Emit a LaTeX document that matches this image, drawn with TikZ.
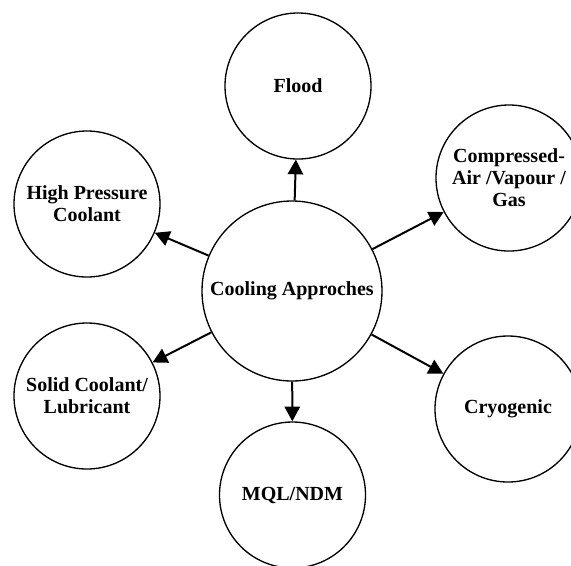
\documentclass[tikz,border=0pt]{standalone}
\usepackage{fontspec}
\setmainfont{Liberation Serif}
\usetikzlibrary{arrows.meta}

\begin{document}
\begin{tikzpicture}[x=0.75pt,y=-0.75pt,
    hub/.style={circle, draw, line width=1pt, minimum size=135pt, inner sep=0pt,
        font=\bfseries\fontsize{15}{16.5}\selectfont, align=center},
    leaf/.style={hub, minimum size=109.5pt},
    arr/.style={line width=1.5pt, -{Triangle[length=11pt,width=11.5pt]}}]

    \useasboundingbox (0,0) rectangle (571,565);

    % centre
    \node[hub] (cool) at (292,291) {Cooling Approches};

    % approaches round it
    \node[leaf] (flood) at (298,86) {Flood};
    \node[leaf] (air) at (509,178) {Compressed-\\Air /Vapour /\\Gas};
    \node[leaf] (cryo) at (508,409) {Cryogenic};
    \node[leaf] (mql) at (292.5,495) {MQL/NDM};
    \node[leaf] (solid) at (87,396) {Solid Coolant/\\Lubricant};
    \node[leaf] (hpc) at (87,204) {High Pressure\\Coolant};

    \draw[arr] (cool) -- (flood);
    \draw[arr] (cool) -- (air);
    \draw[arr] (cool) -- (cryo);
    \draw[arr] (cool) -- (mql);
    \draw[arr] (cool) -- (solid);
    \draw[arr] (cool) -- (hpc);

\end{tikzpicture}
\end{document}
